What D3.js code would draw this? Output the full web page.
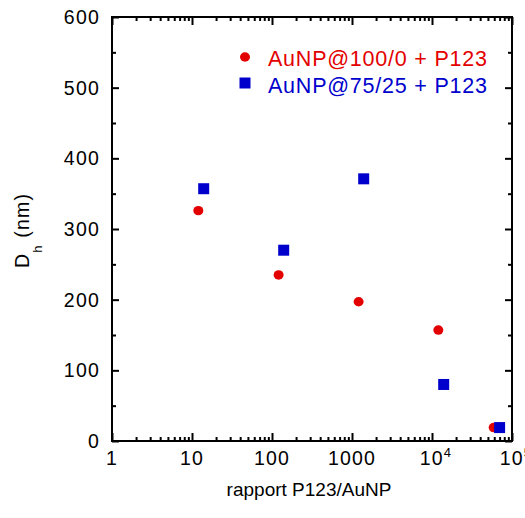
<!DOCTYPE html>
<html>
<head>
<meta charset="utf-8">
<script src="https://cdn.jsdelivr.net/npm/d3@7"></script>
<style>
  html, body { margin: 0; padding: 0; background: #fff; }
  svg { display: block; }
  text { font-family: "Liberation Sans", Arial, sans-serif; }
</style>
</head>
<body>
<svg id="chart" width="525" height="518"></svg>
<script>
// ---- data ----
const seriesNames = ["AuNP@100/0 + P123", "AuNP@75/25 + P123"];
const seriesColors = ["#e30000", "#0000cc"];
const redRatio = [12, 121, 1210, 12000, 59000];
const redDh = [326, 235, 197, 157, 19];
const blueRatio = [14, 140, 1400, 14000, 70000];
const blueDh = [357, 270, 371, 80, 19];
const xMajorTicks = [1, 10, 100, 1000, 10000, 100000];
const xTickLabels = [["1", ""], ["10", ""], ["100", ""], ["1000", ""], ["10", "4"], ["10", "5"]];
const yMajorTicks = [0, 100, 200, 300, 400, 500, 600];
const yMinorTicks = [50, 150, 250, 350, 450, 550];

const svg = d3.select("#chart");
const L = 112, R = 512, T = 17, B = 441;

const x = d3.scaleLog().domain([1, 100000]).range([L, R]);
const y = d3.scaleLinear().domain([0, 600]).range([B, T]);

const xMinor = [];
for (let d = 1; d < 100000; d *= 10) for (let k = 2; k <= 9; k++) xMinor.push(d * k);

const axisStyle = g => {
  g.selectAll(".domain").remove();
  g.selectAll(".tick line").attr("stroke", "#000").attr("stroke-width", 2);
  g.selectAll(".tick text").remove();
};

// ticks: bottom
svg.append("g").attr("transform", `translate(0,${B})`)
  .call(d3.axisBottom(x).tickValues(xMajorTicks).tickSize(-8).tickFormat(() => "")).call(axisStyle);
svg.append("g").attr("transform", `translate(0,${B})`)
  .call(d3.axisBottom(x).tickValues(xMinor).tickSize(-4).tickFormat(() => "")).call(axisStyle);
// top
svg.append("g").attr("transform", `translate(0,${T})`)
  .call(d3.axisTop(x).tickValues(xMajorTicks).tickSize(-8).tickFormat(() => "")).call(axisStyle);
svg.append("g").attr("transform", `translate(0,${T})`)
  .call(d3.axisTop(x).tickValues(xMinor).tickSize(-4).tickFormat(() => "")).call(axisStyle);
// left
svg.append("g").attr("transform", `translate(${L},0)`)
  .call(d3.axisLeft(y).tickValues(yMajorTicks).tickSize(-7).tickFormat(() => "")).call(axisStyle);
svg.append("g").attr("transform", `translate(${L},0)`)
  .call(d3.axisLeft(y).tickValues(yMinorTicks).tickSize(-4).tickFormat(() => "")).call(axisStyle);
// right
svg.append("g").attr("transform", `translate(${R},0)`)
  .call(d3.axisRight(y).tickValues(yMajorTicks).tickSize(-7).tickFormat(() => "")).call(axisStyle);
svg.append("g").attr("transform", `translate(${R},0)`)
  .call(d3.axisRight(y).tickValues(yMinorTicks).tickSize(-4).tickFormat(() => "")).call(axisStyle);

// frame
svg.append("rect").attr("x", L).attr("y", T).attr("width", R - L).attr("height", B - T)
  .attr("fill", "none").attr("stroke", "#000").attr("stroke-width", 2);

// y tick labels
svg.append("g").selectAll("text").data(yMajorTicks).join("text")
  .attr("x", 100).attr("y", d => y(d) + 7)
  .attr("text-anchor", "end").attr("font-size", 19.5).attr("letter-spacing", 1.2)
  .attr("fill", "#000").text(d => d);

// x tick labels
const xl = svg.append("g").selectAll("text").data(xMajorTicks).join("text")
  .attr("x", (d, i) => x(d) + (xTickLabels[i][1] ? 4 : 0)).attr("y", 465)
  .attr("text-anchor", "middle").attr("font-size", 19.5).attr("letter-spacing", 1.2)
  .attr("fill", "#000");
xl.append("tspan").text((d, i) => xTickLabels[i][0]);
xl.append("tspan").attr("dy", -8).attr("font-size", 13).text((d, i) => xTickLabels[i][1]);

// axis titles
svg.append("text").attr("x", 309).attr("y", 496).attr("text-anchor", "middle")
  .attr("font-size", 19).attr("fill", "#000")
  .text("rapport P123/AuNP");

const yt = svg.append("text").attr("transform", "translate(29,268) rotate(-90)")
  .attr("text-anchor", "start").attr("font-size", 19.5).attr("letter-spacing", 1.2).attr("fill", "#000");
yt.append("tspan").text("D");
yt.append("tspan").attr("dy", 13).attr("font-size", 13).text("h");
yt.append("tspan").attr("dy", -13).text(" (nm)");

// points
const red = redRatio.map((r, i) => ({ r, v: redDh[i] }));
const blue = blueRatio.map((r, i) => ({ r, v: blueDh[i] }));

svg.append("g").selectAll("ellipse").data(red).join("ellipse")
  .attr("cx", d => x(d.r)).attr("cy", d => y(d.v)).attr("rx", 5).attr("ry", 4.7)
  .attr("fill", seriesColors[0]);

svg.append("g").selectAll("rect").data(blue).join("rect")
  .attr("x", d => x(d.r) - 5.5).attr("y", d => y(d.v) - 5.5)
  .attr("width", 11).attr("height", 11).attr("fill", seriesColors[1]);

// legend
const lg = svg.append("g");
lg.append("ellipse").attr("cx", 245).attr("cy", 57).attr("rx", 5).attr("ry", 4.7).attr("fill", seriesColors[0]);
lg.append("rect").attr("x", 239.5).attr("y", 77.5).attr("width", 11).attr("height", 11).attr("fill", seriesColors[1]);
lg.selectAll("text").data(seriesNames).join("text")
  .attr("x", 268).attr("y", (d, i) => 66 + i * 27)
  .attr("font-size", 21.5).attr("fill", (d, i) => seriesColors[i])
  .attr("textLength", 219).attr("lengthAdjust", "spacing")
  .text(d => d);
</script>
</body>
</html>
